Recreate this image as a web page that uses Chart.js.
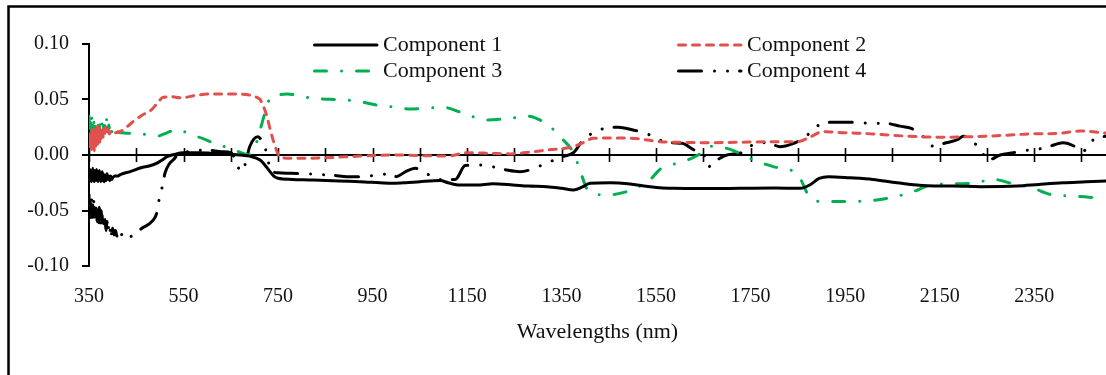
<!DOCTYPE html>
<html>
<head>
<meta charset="utf-8">
<script src="https://cdn.jsdelivr.net/npm/chart.js@4/dist/chart.umd.min.js"></script>
<style>
  html, body { margin: 0; padding: 0; background: #fff; }
  #c { display: block; }
</style>
</head>
<body>
<canvas id="c" width="1106" height="375"></canvas>
<script>
// ---- data: loadings of the four components over the spectrum ----
const seriesNames = ['Component 1', 'Component 2', 'Component 3', 'Component 4'];

const comp1Wl = [350,351,352,353,354,355,356,357,358,359,360,361,362,363,364,365,366,367,368,369,370,371,372,373,374,375,
  376,377,378,379,380,382,384,386,388,390,392,394,396,398,401,405,410,415,420,
  437,460,479,494,505,515,530,549,580,612,640,670,690,712,722,733,741,750,780,824,880,923,966,993,1020,1050,1093,1110,1135,
  1170,1205,1247,1280,1319,1350,1375,1393,1410,1453,1490,1510,1558,1586,1650,1728,1800,1855,1875,1895,1915,1960,2009,2060,
  2123,2180,2236,2314,2360,2411,2460,2502];
const comp1Val = [-0.016,-0.023,-0.013,-0.022,-0.015,-0.024,-0.014,-0.021,-0.012,-0.023,-0.016,-0.024,-0.014,-0.022,-0.015,
  -0.023,-0.013,-0.022,-0.016,-0.024,-0.015,-0.021,-0.014,-0.023,-0.017,-0.024,-0.016,-0.022,-0.015,-0.023,-0.017,-0.024,
  -0.018,-0.023,-0.017,-0.022,-0.019,-0.023,-0.019,-0.022,-0.020,-0.019,-0.019,-0.018,-0.017,
  -0.015,-0.0115,-0.0097,-0.0073,-0.0045,-0.0015,0.0005,0.002,0.002,0.0015,0.001,0.0,-0.001,-0.0045,-0.009,-0.015,-0.019,-0.021,
  -0.022,-0.0225,-0.0235,-0.024,-0.025,-0.0255,-0.025,-0.024,-0.023,-0.025,-0.027,-0.027,-0.026,-0.027,-0.028,-0.0285,-0.030,
  -0.0315,-0.029,-0.0255,-0.025,-0.0258,-0.027,-0.0295,-0.030,-0.0302,-0.030,-0.0298,-0.030,-0.027,-0.021,-0.0195,-0.0205,
  -0.022,-0.025,-0.0277,-0.028,-0.0285,-0.028,-0.0265,-0.025,-0.0242,-0.0234];

const comp2Wl = [350,351,352,353,354,355,356,357,358,359,360,361,362,363,364,365,366,367,368,369,370,371,372,373,374,376,
  378,380,382,384,386,388,390,393,396,401,420,443,463,483,495,
  507,525,543,580,612,650,690,705,712,720,727,734,740,747,754,782,850,923,993,1050,1108,1150,1200,1241,1280,1319,1375,1395,
  1417,1474,1516,1558,1600,1658,1730,1798,1848,1875,1903,1950,2009,2080,2151,2200,2250,2300,2341,2400,2447,2502];
const comp2Val = [0.014,0.005,0.020,0.007,0.017,0.003,0.022,0.009,0.025,0.006,0.019,0.004,0.016,0.010,0.024,0.008,0.021,0.012,
  0.026,0.010,0.020,0.014,0.025,0.011,0.022,0.015,0.025,0.016,0.024,0.018,0.025,0.019,0.023,0.019,0.022,0.020,
  0.022,0.030,0.036,0.041,0.047,0.052,0.0525,0.0515,0.054,0.055,0.055,0.054,0.052,0.050,0.043,0.034,
  0.022,0.013,0.004,-0.002,-0.003,-0.0025,-0.001,0.0,-0.0005,-0.001,0.002,0.0015,0.001,0.0025,0.0045,0.0075,0.011,0.015,
  0.0153,0.0144,0.012,0.0115,0.011,0.0115,0.012,0.012,0.016,0.021,0.020,0.019,0.017,0.016,0.0163,0.017,0.018,0.019,0.0195,
  0.0216,0.0198];

const comp3Wl = [350,351,352,353,354,355,356,357,358,359,360,361,362,363,364,365,366,367,368,369,370,371,372,374,376,378,
  380,382,384,386,388,390,392,394,396,398,400,403,406,410,420,437,470,494,515,536,
  552,568,590,612,648,676,687,697,705,712,723,733,750,769,824,896,923,959,1000,1029,1060,1099,1140,1192,1240,1277,1311,1330,
  1347,1375,1390,1403,1420,1446,1488,1516,1537,1558,1607,1639,1664,1700,1730,1756,1798,1841,1856,1870,1898,1939,2009,2052,
  2094,2136,2180,2221,2263,2306,2348,2384,2426,2465,2502];
const comp3Val = [0.035,0.024,0.032,0.021,0.029,0.019,0.033,0.022,0.027,0.018,0.030,0.021,0.026,0.019,0.031,0.022,0.028,0.020,
  0.025,0.018,0.029,0.021,0.027,0.020,0.031,0.022,0.028,0.021,0.027,0.023,0.035,0.022,0.027,0.020,0.025,0.021,0.024,0.020,
  0.023,0.021,0.020,0.0195,0.0185,0.017,0.020,0.023,0.021,0.018,0.015,0.011,0.006,0.0015,0.0,0.0045,0.012,0.0225,0.039,
  0.051,0.054,0.055,0.051,0.0495,0.048,0.045,0.043,0.0414,0.042,0.043,0.038,0.0315,0.033,0.035,0.030,0.024,0.0165,0.002,-0.015,
  -0.030,-0.035,-0.036,-0.033,-0.028,-0.0225,-0.013,-0.006,0.0,0.008,0.006,0.001,-0.0045,-0.0105,-0.015,-0.022,-0.0345,-0.042,
  -0.042,-0.041,-0.038,-0.033,-0.0265,-0.026,-0.0255,-0.022,-0.026,-0.030,-0.0355,-0.037,-0.038,-0.0397];

const comp4Wl = [350,351,352,353,354,355,356,357,358,359,360,361,362,363,364,365,366,367,368,369,370,371,372,373,374,375,
  376,377,378,379,380,382,384,386,388,390,392,394,396,398,400,403,406,409,412,415,418,422,427,437,450,
  462,479,490,494,498,505,511,520,528,540,560,580,599,631,650,660,671,680,690,707,717,722,735,750,777,809,839,870,896,928,959,
  987,1000,1020,1040,1065,1093,1125,1146,1174,1203,1234,1262,1315,1347,1375,1393,1420,1442,1470,1501,1527,1558,1586,1605,
  1631,1644,1652,1660,1685,1700,1731,1757,1787,1812,1838,1865,1887,1914,1975,2003,2035,2066,2090,2115,2136,2164,2189,2200,
  2220,2236,2253,2278,2306,2330,2356,2384,2411,2437,2452,2473,2496,2502];
const comp4Val = [-0.036,-0.052,-0.040,-0.058,-0.043,-0.055,-0.038,-0.057,-0.045,-0.060,-0.042,-0.056,-0.047,-0.059,-0.044,
  -0.054,-0.048,-0.060,-0.046,-0.057,-0.050,-0.061,-0.047,-0.058,-0.052,-0.063,-0.050,-0.060,-0.054,-0.065,-0.055,-0.066,
  -0.058,-0.068,-0.060,-0.069,-0.063,-0.070,-0.064,-0.071,-0.066,-0.072,-0.068,-0.073,-0.070,-0.074,-0.071,-0.075,-0.073,
  -0.0735,-0.070,-0.066,-0.0615,-0.056,-0.051,-0.041,
  -0.0285,-0.016,-0.008,-0.0045,0.001,0.003,0.004,0.0045,0.003,0.002,-0.004,-0.015,-0.009,0.0075,0.0165,0.012,0.0075,-0.0135,
  -0.016,-0.0165,-0.017,-0.0175,-0.0185,-0.0195,-0.0195,-0.018,-0.017,-0.0195,-0.015,-0.012,-0.017,-0.022,-0.022,-0.0095,
  -0.009,-0.0105,-0.0135,-0.015,-0.008,-0.002,0.002,0.012,0.021,0.024,0.025,0.0225,0.0198,0.0135,0.011,0.0105,0.0045,0.003,
  0.0,-0.0105,-0.003,0.0,0.002,0.0096,0.011,0.0075,0.010,0.016,0.025,0.0295,0.0295,0.0285,0.0285,0.026,0.024,0.0165,0.008,
  0.011,0.014,0.017,0.012,0.005,-0.0045,0.0,0.002,0.004,0.005,0.008,0.011,0.0075,0.003,0.013,0.0165,0.017];

// ---- axes ----
const xTickValues = [350,450,550,650,750,850,950,1050,1150,1250,1350,1450,1550,1650,1750,1850,1950,2050,2150,2250,2350,2450];
const xTickLabels = [350,550,750,950,1150,1350,1550,1750,1950,2150,2350];
const yTickValues = [-0.10,-0.05,0,0.05,0.10];
const xTitle = 'Wavelengths (nm)';

const FONT = '"Liberation Serif", "Times New Roman", serif';
const TEXT = '#111';

function toPoints(wl, val) { return wl.map((w, i) => ({ x: w, y: val[i] })); }

const lineBase = {
  borderWidth: 3, pointRadius: 0, pointHoverRadius: 0, fill: false,
  borderCapStyle: 'round', borderJoinStyle: 'round', cubicInterpolationMode: 'monotone'
};

const datasets = [
  Object.assign({}, lineBase, { label: seriesNames[0], data: toPoints(comp1Wl, comp1Val),
    borderColor: '#000000', borderDash: [] }),
  Object.assign({}, lineBase, { label: seriesNames[1], data: toPoints(comp2Wl, comp2Val),
    borderColor: '#E0514D', borderDash: [7, 7] }),
  Object.assign({}, lineBase, { label: seriesNames[2], data: toPoints(comp3Wl, comp3Val),
    borderColor: '#00B050', borderDash: [12, 15, 0.01, 15] }),
  Object.assign({}, lineBase, { label: seriesNames[3], data: toPoints(comp4Wl, comp4Val),
    borderColor: '#000000', borderDash: [23, 13, 0.01, 13, 0.01, 12] })
];

// white page with the chart frame (left and top edges)
const framePlugin = {
  id: 'frame',
  beforeDraw(chart) {
    const ctx = chart.ctx;
    ctx.save();
    ctx.fillStyle = '#fff';
    ctx.fillRect(0, 0, chart.width, chart.height);
    ctx.strokeStyle = '#000';
    ctx.lineWidth = 2.5;
    ctx.beginPath();
    ctx.moveTo(8.5, chart.height);
    ctx.lineTo(8.5, 6.5);
    ctx.lineTo(chart.width, 6.5);
    ctx.stroke();
    ctx.restore();
  }
};

// horizontal axis line at y = 0 with tick marks crossing it
const zeroAxisPlugin = {
  id: 'zeroAxis',
  beforeDatasetsDraw(chart) {
    const { ctx, chartArea, scales } = chart;
    const y0 = scales.y.getPixelForValue(0);
    ctx.save();
    ctx.strokeStyle = '#000';
    ctx.lineWidth = 2;
    ctx.beginPath();
    ctx.moveTo(chartArea.left, y0);
    ctx.lineTo(chartArea.right, y0);
    ctx.stroke();
    ctx.lineWidth = 1.6;
    scales.x.ticks.forEach(t => {
      const px = Math.round(scales.x.getPixelForValue(t.value)) + 0.5;
      ctx.beginPath();
      ctx.moveTo(px, y0 - 7);
      ctx.lineTo(px, y0 + 7);
      ctx.stroke();
    });
    ctx.restore();
  }
};

// two-column legend inside the plot
const legendSlots = [
  { x: 313, y: 45 }, { x: 677, y: 45 }, { x: 313, y: 71 }, { x: 677, y: 71 }
];
const legendPlugin = {
  id: 'twoColLegend',
  afterDraw(chart) {
    const ctx = chart.ctx;
    ctx.save();
    chart.data.datasets.forEach((ds, i) => {
      const s = legendSlots[i];
      ctx.strokeStyle = ds.borderColor;
      ctx.lineWidth = ds.borderWidth;
      ctx.lineCap = 'round';
      ctx.setLineDash(ds.borderDash || []);
      ctx.beginPath();
      ctx.moveTo(s.x + 1.5, s.y);
      ctx.lineTo(s.x + 64, s.y);
      ctx.stroke();
      ctx.setLineDash([]);
      ctx.fillStyle = TEXT;
      ctx.font = '22px ' + FONT;
      ctx.textBaseline = 'middle';
      ctx.textAlign = 'left';
      ctx.fillText(ds.label, s.x + 70, s.y);
    });
    ctx.restore();
  }
};

new Chart(document.getElementById('c'), {
  type: 'line',
  data: { datasets },
  plugins: [framePlugin, zeroAxisPlugin, legendPlugin],
  options: {
    responsive: false,
    animation: false,
    devicePixelRatio: 1,
    layout: { padding: { left: 0, right: 0, top: 44, bottom: 0 } },
    plugins: { legend: { display: false }, tooltip: { enabled: false } },
    scales: {
      x: {
        type: 'linear',
        min: 350, max: 2502,
        afterBuildTicks: s => { s.ticks = xTickValues.map(v => ({ value: v })); },
        afterFit: s => { s.height = 109; },
        grid: { display: false, drawTicks: false },
        border: { display: false },
        ticks: {
          autoSkip: false, maxRotation: 0, padding: 19, color: TEXT,
          font: { family: FONT, size: 20 },
          callback: v => xTickLabels.includes(v) ? String(v) : ''
        },
        title: {
          display: true, text: xTitle, color: TEXT,
          font: { family: FONT, size: 22 },
          padding: { top: 0, bottom: 30 }
        }
      },
      y: {
        min: -0.10, max: 0.10,
        afterBuildTicks: s => { s.ticks = yTickValues.map(v => ({ value: v })); },
        afterFit: s => { s.width = 89; },
        grid: { display: true, drawOnChartArea: false, drawTicks: true, tickLength: 7, color: '#000', lineWidth: 2 },
        border: { display: true, color: '#000', width: 2 },
        ticks: {
          padding: 13, color: TEXT,
          font: { family: FONT, size: 20 },
          callback: v => Number(v).toFixed(2)
        }
      }
    }
  }
});
</script>
</body>
</html>
